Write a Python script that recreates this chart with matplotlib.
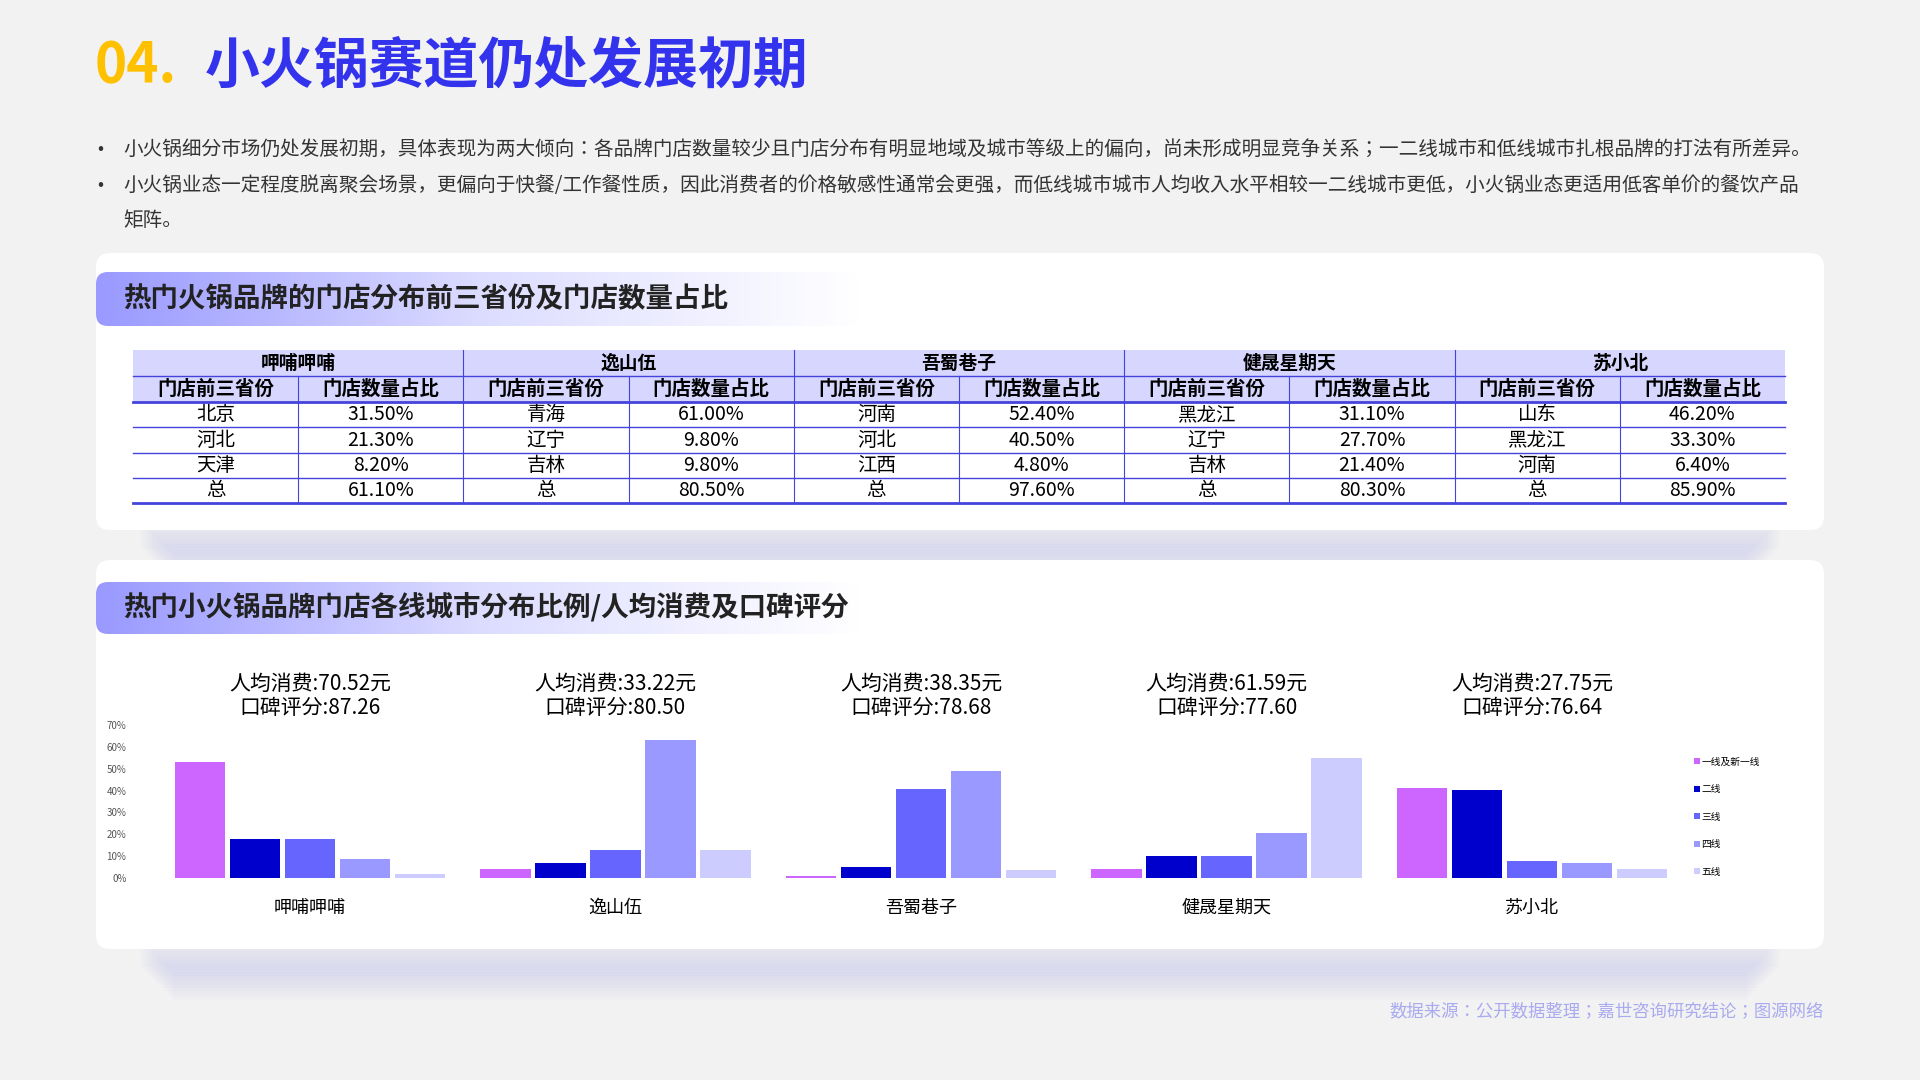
import numpy as np
import matplotlib.pyplot as plt
from matplotlib import font_manager
from matplotlib.patches import FancyBboxPatch, Rectangle
from matplotlib.colors import LinearSegmentedColormap
from matplotlib.transforms import blended_transform_factory

cjk = [f.name for f in font_manager.fontManager.ttflist if 'CJK' in f.name]
pref = [n for n in ['Noto Sans CJK SC', 'Noto Sans CJK JP', 'Noto Sans CJK TC', 'Noto Sans CJK KR'] if n in cjk]
plt.rcParams['font.family'] = (pref or cjk[:1]) + ['DejaVu Sans']

# 数据
brands = ['呷哺呷哺', '逸山伍', '吾蜀巷子', '健晟星期天', '苏小北']
tiers = ['一线及新一线', '二线', '三线', '四线', '五线']
tier_colors = ['#CC66FF', '#0000CC', '#6666FF', '#9999FF', '#CCCCFF']
share_tier1 = [53.0, 3.9, 1.0, 3.9, 41.0]
share_tier2 = [17.7, 6.9, 5.0, 9.9, 40.2]
share_tier3 = [17.7, 12.9, 40.8, 9.9, 7.8]
share_tier4 = [8.7, 63.0, 49.0, 20.8, 6.8]
share_tier5 = [2.0, 12.9, 3.5, 55.0, 3.9]
avg_spend = ['70.52', '33.22', '38.35', '61.59', '27.75']
rating = ['87.26', '80.50', '78.68', '77.60', '76.64']

top_provinces = [['北京', '河北', '天津', '总'],
                 ['青海', '辽宁', '吉林', '总'],
                 ['河南', '河北', '江西', '总'],
                 ['黑龙江', '辽宁', '吉林', '总'],
                 ['山东', '黑龙江', '河南', '总']]
top_shares = [['31.50%', '21.30%', '8.20%', '61.10%'],
              ['61.00%', '9.80%', '9.80%', '80.50%'],
              ['52.40%', '40.50%', '4.80%', '97.60%'],
              ['31.10%', '27.70%', '21.40%', '80.30%'],
              ['46.20%', '33.30%', '6.40%', '85.90%']]

fig = plt.figure(figsize=(19.2, 10.8), dpi=100)
fig.patch.set_facecolor('#F2F2F2')
bg = fig.add_axes([0, 0, 1, 1])
bg.axis('off')

# 标题
bg.text(95, 66, '04.', fontsize=39.5, fontweight='bold', color='#FFC000', va='center')
bg.text(205, 66, '小火锅赛道仍处发展初期', fontsize=39.5, fontweight='bold', color='#3333EE', va='center')

bullets = ['小火锅细分市场仍处发展初期，具体表现为两大倾向：各品牌门店数量较少且门店分布有明显地域及城市等级上的偏向，尚未形成明显竞争关系；一二线城市和低线城市扎根品牌的打法有所差异。',
           '小火锅业态一定程度脱离聚会场景，更偏向于快餐/工作餐性质，因此消费者的价格敏感性通常会更强，而低线城市城市人均收入水平相较一二线城市更低，小火锅业态更适用低客单价的餐饮产品',
           '矩阵。']
bg.text(97, 149, '•', fontsize=13, color='#333333', va='center')
bg.text(97, 185, '•', fontsize=13, color='#333333', va='center')
for y, t in zip([149, 185, 221], bullets):
    bg.text(123, y, t, fontsize=14.1, color='#333333', va='center')

# 卡片和阴影
def card(y0, y1):
    for k in range(12):
        bg.add_patch(Rectangle((140 + k * 3, y1 - 10 + k * 3), 1640 - k * 6, 28,
                               color='#C8C8EE', alpha=0.07, lw=0))
    bg.add_patch(FancyBboxPatch((96, y0), 1728, y1 - y0, boxstyle='round,pad=0,rounding_size=14',
                                fc='white', ec='none'))

def header(y0, y1, text):
    grad = np.linspace(0, 1, 256).reshape(1, -1)
    cm = LinearSegmentedColormap.from_list('h', ['#9999FF', '#DCDCFF', '#FFFFFF'])
    im = bg.imshow(grad, extent=(96, 860, y1, y0), cmap=cm, aspect='auto', zorder=2)
    clip = FancyBboxPatch((96, y0), 764, y1 - y0, boxstyle='round,pad=0,rounding_size=12',
                          transform=bg.transData, fc='none', ec='none')
    bg.add_patch(clip)
    im.set_clip_path(clip)
    bg.text(123, (y0 + y1) / 2, text, fontsize=19.8, fontweight='bold', color='#222222', va='center', zorder=3)

card(253, 530)
card(560, 949)
header(272, 326, '热门火锅品牌的门店分布前三省份及门店数量占比')
header(582, 634, '热门小火锅品牌门店各线城市分布比例/人均消费及口碑评分')

# 表格
tx0, tx1 = 133, 1785
cw = (tx1 - tx0) / 10
row_y = [350, 376, 402, 427, 453, 478, 503]
bg.add_patch(Rectangle((tx0, row_y[0]), tx1 - tx0, row_y[2] - row_y[0], fc='#D6D6FF', ec='none', zorder=2))
for i, b in enumerate(brands):
    x = tx0 + i * 2 * cw
    bg.text(x + cw, (row_y[0] + row_y[1]) / 2, b, ha='center', va='center', fontsize=13.5, fontweight='bold', zorder=3)
    bg.text(x + cw / 2, (row_y[1] + row_y[2]) / 2, '门店前三省份', ha='center', va='center', fontsize=14, fontweight='bold', zorder=3)
    bg.text(x + cw * 1.5, (row_y[1] + row_y[2]) / 2, '门店数量占比', ha='center', va='center', fontsize=14, fontweight='bold', zorder=3)
    for r in range(4):
        yc = (row_y[r + 2] + row_y[r + 3]) / 2
        bg.text(x + cw / 2, yc, top_provinces[i][r], ha='center', va='center', fontsize=14, zorder=3)
        bg.text(x + cw * 1.5, yc, top_shares[i][r], ha='center', va='center', fontsize=14, zorder=3)
for k, y in enumerate(row_y):
    if k == 0:
        continue
    lw = 2 if k in (2, 6) else 1
    bg.plot([tx0, tx1], [y, y], color='#4444DD', lw=lw, zorder=4)
for c in range(1, 10):
    ytop = row_y[1] if c % 2 else row_y[0]
    bg.plot([tx0 + c * cw] * 2, [ytop, row_y[6]], color='#4444DD', lw=0.8, zorder=4)

bg.set_xlim(0, 1920)
bg.set_ylim(1080, 0)

# 柱状图
ax = fig.add_axes([157 / 1920, 1 - 878 / 1080, (1685 - 157) / 1920, 153 / 1080])
ax.set_facecolor('none')
x = np.arange(len(brands))
series = [share_tier1, share_tier2, share_tier3, share_tier4, share_tier5]
for j, (vals, col, name) in enumerate(zip(series, tier_colors, tiers)):
    ax.bar(x + (j - 2) * 0.18, vals, width=0.165, color=col, label=name)
ax.set_xlim(-0.5, 4.5)
ax.set_ylim(0, 70)
ax.set_yticks(range(0, 71, 10))
ax.set_yticklabels([f'{v}%' for v in range(0, 71, 10)], fontsize=7, color='#555555')
ax.set_xticks(x)
ax.set_xticklabels(brands, fontsize=13)
ax.tick_params(length=0)
ax.tick_params(axis='x', pad=15)
ax.tick_params(axis='y', pad=22)
for s in ax.spines.values():
    s.set_visible(False)
tr = blended_transform_factory(ax.transData, ax.transAxes)
for i in range(len(brands)):
    ax.text(i, 1.27, f'人均消费:{avg_spend[i]}元', transform=tr, ha='center', va='center', fontsize=15)
    ax.text(i, 1.11, f'口碑评分:{rating[i]}', transform=tr, ha='center', va='center', fontsize=15)
ax.legend(loc='center left', bbox_to_anchor=(1.0, 0.4), frameon=False, fontsize=7,
          handlelength=0.6, handleheight=0.6, handletextpad=0.2, labelspacing=1.8)

bg.text(1824, 1011, '数据来源：公开数据整理；嘉世咨询研究结论；图源网络', ha='right', va='center',
        fontsize=12.5, color='#AAAAF0')

fig.savefig('out.png', dpi=100, facecolor=fig.get_facecolor())
